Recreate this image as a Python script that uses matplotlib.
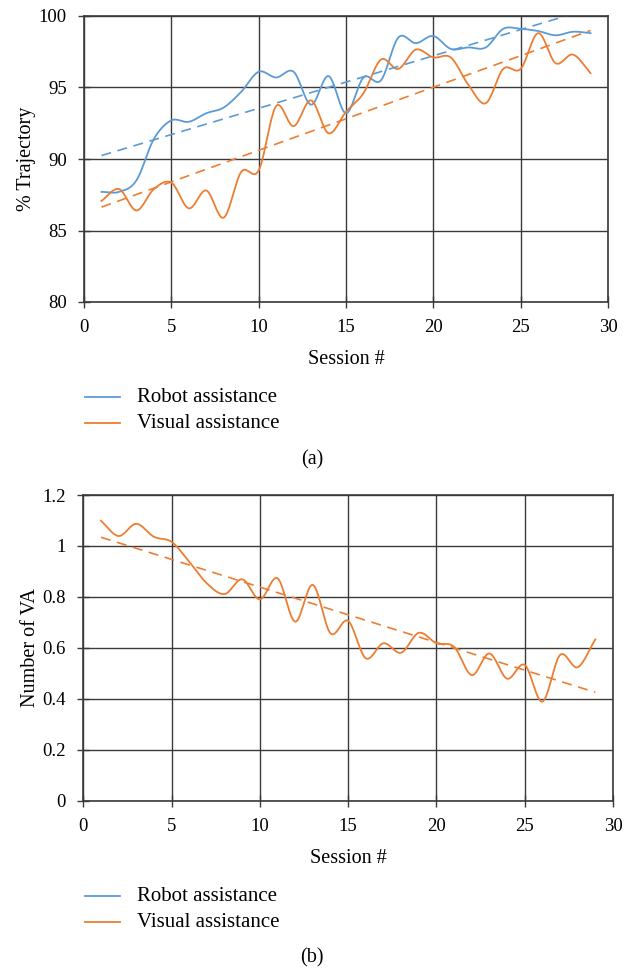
import numpy as np
import matplotlib.pyplot as plt
from matplotlib.lines import Line2D

plt.rcParams['font.family'] = ['Liberation Serif', 'DejaVu Serif']

# Data
sessions = np.arange(1, 30)
robot_traj = [87.7, 87.7, 88.5, 91.4, 92.7, 92.6, 93.2, 93.6, 94.7, 96.1,
              95.7, 96.1, 93.8, 95.8, 93.2, 95.7, 95.5, 98.5, 98.1, 98.6,
              97.7, 97.8, 97.8, 99.1, 99.1, 98.95, 98.65, 98.9, 98.8]
visual_traj = [87.07, 87.9, 86.4, 87.9, 88.35, 86.55, 87.8, 85.9, 89.1, 89.2,
               93.7, 92.3, 94.1, 91.8, 93.3, 94.6, 96.95, 96.3, 97.65, 97.1,
               97.1, 95.2, 93.9, 96.3, 96.3, 98.8, 96.7, 97.3, 96.0]
num_va = [1.099, 1.039, 1.087, 1.036, 1.016, 0.938, 0.853, 0.811, 0.869, 0.790,
          0.873, 0.703, 0.847, 0.657, 0.706, 0.559, 0.618, 0.581, 0.659, 0.618,
          0.604, 0.493, 0.578, 0.479, 0.533, 0.389, 0.572, 0.524, 0.633]
legend_labels = ['Robot assistance', 'Visual assistance']

BLUE = '#5B9BD5'
ORANGE = '#ED7D31'
GRID = '#3a3a3a'
W, H = 635, 972


def smooth(x, y, n=20):
    # Catmull-Rom spline through the points (like Excel's smoothed line)
    x = np.asarray(x, float)
    y = np.asarray(y, float)
    px = np.concatenate([[2 * x[0] - x[1]], x, [2 * x[-1] - x[-2]]])
    py = np.concatenate([[2 * y[0] - y[1]], y, [2 * y[-1] - y[-2]]])
    xs, ys = [], []
    t = np.linspace(0, 1, n, endpoint=False)
    for i in range(1, len(px) - 2):
        for p, out in ((px, xs), (py, ys)):
            p0, p1, p2, p3 = p[i - 1], p[i], p[i + 1], p[i + 2]
            out.extend(0.5 * (2 * p1 + (-p0 + p2) * t
                              + (2 * p0 - 5 * p1 + 4 * p2 - p3) * t ** 2
                              + (-p0 + 3 * p1 - 3 * p2 + p3) * t ** 3))
    xs.append(x[-1])
    ys.append(y[-1])
    return np.array(xs), np.array(ys)


def trend(ax, x, y, color):
    k, b = np.polyfit(x, y, 1)
    ax.plot(x, k * np.asarray(x) + b, color=color, lw=1.2, ls=(0, (6, 4)))


def style(ax, ylabel):
    ax.set_xlim(0, 30)
    ax.set_xticks(range(0, 31, 5))
    ax.grid(True, color=GRID, lw=1)
    ax.set_axisbelow(True)
    for s in ax.spines.values():
        s.set_color(GRID)
        s.set_linewidth(1.2)
    ax.tick_params(labelsize=13.5, length=9, direction='inout', color=GRID, width=1)
    ax.tick_params(axis='x', pad=8)
    ax.tick_params(axis='y', pad=8)
    ax.set_xlabel('Session #', fontsize=14.5, labelpad=10)
    ax.set_ylabel(ylabel, fontsize=14.5, labelpad=2)


def legend(y1, y2):
    for y, color, label in ((y1, BLUE, legend_labels[0]), (y2, ORANGE, legend_labels[1])):
        fig.add_artist(Line2D([85 / W, 120 / W], [1 - y / H] * 2, color=color, lw=1.3,
                              transform=fig.transFigure))
        fig.text(137 / W, 1 - y / H, label, fontsize=15, va='center', ha='left')


fig = plt.figure(figsize=(6.35, 9.72), dpi=100)

ax1 = fig.add_axes([84 / W, 1 - 302 / H, 524 / W, 286 / H])
ax1.plot(*smooth(sessions, robot_traj), color=BLUE, lw=1.3)
ax1.plot(*smooth(sessions, visual_traj), color=ORANGE, lw=1.3)
trend(ax1, sessions, robot_traj, BLUE)
trend(ax1, sessions, visual_traj, ORANGE)
ax1.set_ylim(80, 100)
ax1.set_yticks(range(80, 101, 5))
style(ax1, '% Trajectory')

ax2 = fig.add_axes([83.3 / W, 1 - 800.7 / H, 529.7 / W, 305.7 / H])
ax2.plot(*smooth(sessions, num_va), color=ORANGE, lw=1.3)
trend(ax2, sessions, num_va, ORANGE)
ax2.set_ylim(0, 1.2)
ax2.set_yticks(np.arange(0, 1.21, 0.2))
ax2.set_yticklabels(['0', '0.2', '0.4', '0.6', '0.8', '1', '1.2'])
style(ax2, 'Number of VA')

legend(397, 423)
legend(896, 922)

fig.text(312 / W, 1 - 460 / H, '(a)', ha='center', va='center', fontsize=14.5)
fig.text(312 / W, 1 - 958 / H, '(b)', ha='center', va='center', fontsize=14.5)

fig.savefig('out.png', dpi=100)
